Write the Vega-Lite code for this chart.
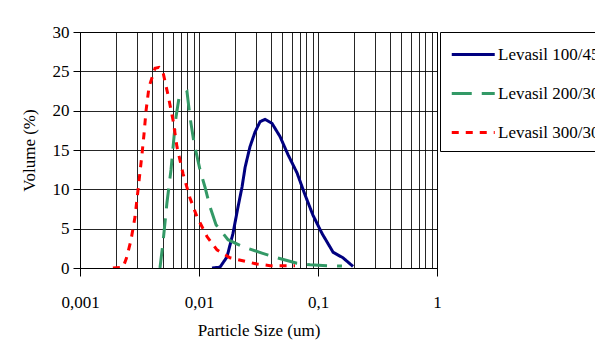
{
  "$schema": "https://vega.github.io/schema/vega-lite/v6.json",
  "width": 357,
  "height": 236,
  "padding": {"left": 80, "top": 32, "right": 158, "bottom": 81},
  "autosize": {"type": "none"},
  "background": "white",
  "config": {
    "font": "Liberation Serif",
    "view": {"stroke": "black", "strokeWidth": 1},
    "axis": {"labelFont": "Liberation Serif", "titleFont": "Liberation Serif", "labelColor": "black", "titleColor": "black", "titleFontWeight": "normal", "domainColor": "black", "tickColor": "black", "gridColor": "black", "gridOpacity": 0.85},
    "legend": {"labelFont": "Liberation Serif"},
    "text": {"font": "Liberation Serif"}
  },
  "data": {
    "values": [
      {"size": 0.01286, "vol": 0, "series": "Levasil 100/45"},
      {"size": 0.015, "vol": 0.1, "series": "Levasil 100/45"},
      {"size": 0.01718, "vol": 1.4, "series": "Levasil 100/45"},
      {"size": 0.0193, "vol": 4.4, "series": "Levasil 100/45"},
      {"size": 0.0213, "vol": 7.8, "series": "Levasil 100/45"},
      {"size": 0.023, "vol": 10.3, "series": "Levasil 100/45"},
      {"size": 0.0244, "vol": 12.8, "series": "Levasil 100/45"},
      {"size": 0.0268, "vol": 15.4, "series": "Levasil 100/45"},
      {"size": 0.0296, "vol": 17.3, "series": "Levasil 100/45"},
      {"size": 0.0326, "vol": 18.6, "series": "Levasil 100/45"},
      {"size": 0.0359, "vol": 18.9, "series": "Levasil 100/45"},
      {"size": 0.041, "vol": 18.4, "series": "Levasil 100/45"},
      {"size": 0.048, "vol": 16.7, "series": "Levasil 100/45"},
      {"size": 0.056, "vol": 14.4, "series": "Levasil 100/45"},
      {"size": 0.0666, "vol": 12.1, "series": "Levasil 100/45"},
      {"size": 0.0778, "vol": 9.3, "series": "Levasil 100/45"},
      {"size": 0.0908, "vol": 6.7, "series": "Levasil 100/45"},
      {"size": 0.108, "vol": 4.4, "series": "Levasil 100/45"},
      {"size": 0.134, "vol": 2.0, "series": "Levasil 100/45"},
      {"size": 0.162, "vol": 1.3, "series": "Levasil 100/45"},
      {"size": 0.197, "vol": 0.2, "series": "Levasil 100/45"},

      {"size": 0.0047, "vol": 0, "series": "Levasil 200/30"},
      {"size": 0.00498, "vol": 3.2, "series": "Levasil 200/30"},
      {"size": 0.00538, "vol": 8.3, "series": "Levasil 200/30"},
      {"size": 0.00582, "vol": 12.5, "series": "Levasil 200/30"},
      {"size": 0.00617, "vol": 16.7, "series": "Levasil 200/30"},
      {"size": 0.00641, "vol": 19.2, "series": "Levasil 200/30"},
      {"size": 0.00679, "vol": 21.6, "series": "Levasil 200/30"},
      {"size": 0.00793, "vol": 22.4, "series": "Levasil 200/30"},
      {"size": 0.0084, "vol": 19.2, "series": "Levasil 200/30"},
      {"size": 0.00908, "vol": 15.9, "series": "Levasil 200/30"},
      {"size": 0.01019, "vol": 12.5, "series": "Levasil 200/30"},
      {"size": 0.01122, "vol": 10.3, "series": "Levasil 200/30"},
      {"size": 0.01236, "vol": 7.8, "series": "Levasil 200/30"},
      {"size": 0.0139, "vol": 5.5, "series": "Levasil 200/30"},
      {"size": 0.01753, "vol": 3.6, "series": "Levasil 200/30"},
      {"size": 0.02344, "vol": 2.7, "series": "Levasil 200/30"},
      {"size": 0.0338, "vol": 1.9, "series": "Levasil 200/30"},
      {"size": 0.0452, "vol": 1.3, "series": "Levasil 200/30"},
      {"size": 0.0666, "vol": 0.6, "series": "Levasil 200/30"},
      {"size": 0.0857, "vol": 0.4, "series": "Levasil 200/30"},
      {"size": 0.119, "vol": 0.3, "series": "Levasil 200/30"},
      {"size": 0.159, "vol": 0.25, "series": "Levasil 200/30"},

      {"size": 0.00189, "vol": 0, "series": "Levasil 300/30"},
      {"size": 0.0023, "vol": 0.1, "series": "Levasil 300/30"},
      {"size": 0.00245, "vol": 1.2, "series": "Levasil 300/30"},
      {"size": 0.00268, "vol": 3.5, "series": "Levasil 300/30"},
      {"size": 0.0029, "vol": 6.5, "series": "Levasil 300/30"},
      {"size": 0.00313, "vol": 11, "series": "Levasil 300/30"},
      {"size": 0.00332, "vol": 14.5, "series": "Levasil 300/30"},
      {"size": 0.00345, "vol": 17, "series": "Levasil 300/30"},
      {"size": 0.00359, "vol": 20, "series": "Levasil 300/30"},
      {"size": 0.0038, "vol": 23, "series": "Levasil 300/30"},
      {"size": 0.00427, "vol": 25.4, "series": "Levasil 300/30"},
      {"size": 0.00461, "vol": 25.5, "series": "Levasil 300/30"},
      {"size": 0.00498, "vol": 24.9, "series": "Levasil 300/30"},
      {"size": 0.00549, "vol": 22, "series": "Levasil 300/30"},
      {"size": 0.00605, "vol": 18.8, "series": "Levasil 300/30"},
      {"size": 0.00653, "vol": 15.4, "series": "Levasil 300/30"},
      {"size": 0.00734, "vol": 12, "series": "Levasil 300/30"},
      {"size": 0.0084, "vol": 8.9, "series": "Levasil 300/30"},
      {"size": 0.00962, "vol": 6.5, "series": "Levasil 300/30"},
      {"size": 0.01167, "vol": 4, "series": "Levasil 300/30"},
      {"size": 0.01416, "vol": 2.3, "series": "Levasil 300/30"},
      {"size": 0.01823, "vol": 1.3, "series": "Levasil 300/30"},
      {"size": 0.0307, "vol": 0.5, "series": "Levasil 300/30"},
      {"size": 0.0395, "vol": 0.3, "series": "Levasil 300/30"},
      {"size": 0.0641, "vol": 0.3, "series": "Levasil 300/30"}
    ]
  },
  "mark": {"type": "line", "strokeWidth": 3, "clip": true},
  "encoding": {
    "x": {
      "field": "size",
      "type": "quantitative",
      "scale": {"type": "log", "domain": [0.001, 1], "nice": false},
      "axis": {
        "title": "Particle Size (um)",
        "titleFont": "Liberation Serif",
        "labelFont": "Liberation Serif",
        "titleFontSize": 17,
        "titlePadding": 12,
        "labelFontSize": 17,
        "labelPadding": 18,
        "tickSize": 8,
        "values": [0.001, 0.002, 0.003, 0.004, 0.005, 0.006, 0.007, 0.008, 0.009, 0.01, 0.02, 0.03, 0.04, 0.05, 0.06, 0.07, 0.08, 0.09, 0.1, 0.2, 0.3, 0.4, 0.5, 0.6, 0.7, 0.8, 0.9, 1],
        "labelExpr": "indexof([0.001, 0.01, 0.1, 1], datum.value) >= 0 ? replace(toString(datum.value), '.', ',') : ''",
        "tickOpacity": {"condition": {"test": "indexof([0.001, 0.01, 0.1, 1], datum.value) >= 0", "value": 1}, "value": 0},
        "grid": true,
        "labelFlush": false,
        "labelOverlap": false
      }
    },
    "y": {
      "field": "vol",
      "type": "quantitative",
      "scale": {"domain": [0, 30], "nice": false},
      "axis": {
        "title": "Volume (%)",
        "titleFont": "Liberation Serif",
        "labelFont": "Liberation Serif",
        "titleFontSize": 17,
        "titlePadding": 14,
        "labelFontSize": 17,
        "labelPadding": 4,
        "tickSize": 7,
        "values": [0, 5, 10, 15, 20, 25, 30],
        "grid": true
      }
    },
    "color": {
      "field": "series",
      "type": "nominal",
      "scale": {"domain": ["Levasil 100/45", "Levasil 200/30", "Levasil 300/30"], "range": ["#000080", "#339966", "#FF0000"]},
      "legend": {
        "title": null,
        "orient": "none",
        "legendX": 360,
        "legendY": 0,
        "strokeColor": "black",
        "fillColor": "white",
        "padding": 10,
        "rowPadding": 18,
        "labelFontSize": 17,
        "labelFont": "Liberation Serif",
        "labelColor": "black",
        "labelOffset": 23,
        "symbolType": "M-1,0H3",
        "symbolSize": 462,
        "symbolStrokeWidth": 3,
        "labelLimit": 300
      }
    },
    "strokeDash": {
      "field": "series",
      "type": "nominal",
      "scale": {"domain": ["Levasil 100/45", "Levasil 200/30", "Levasil 300/30"], "range": [[1, 0], [20, 10], [7, 7]]},
      "legend": null
    }
  }
}
